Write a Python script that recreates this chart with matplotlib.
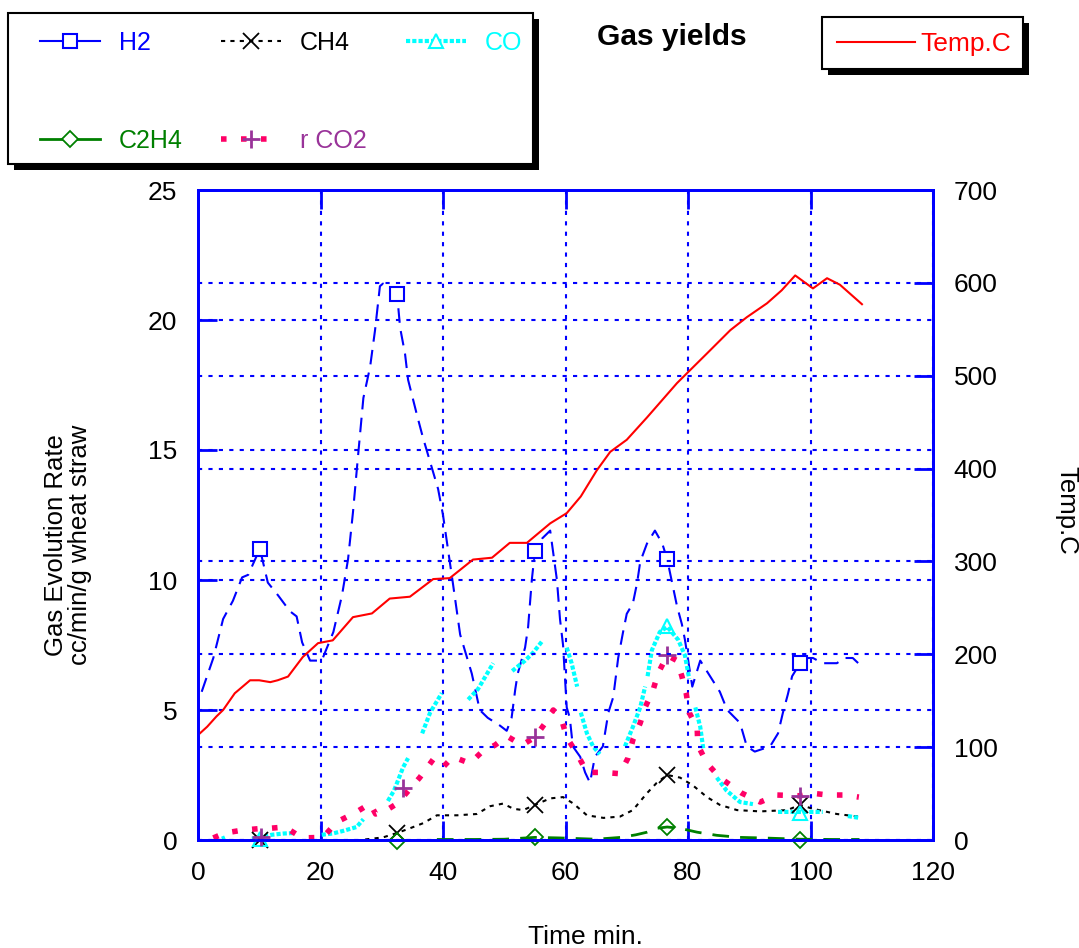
import numpy as np
import matplotlib
matplotlib.use("Agg")
import matplotlib.pyplot as plt
from matplotlib.patches import Rectangle
from matplotlib.lines import Line2D

plt.rcParams["font.family"] = ["Liberation Sans", "DejaVu Sans"]

# ============================================================
# data
# ============================================================
h2_t = [0.6, 2.5, 4.1, 5.7, 7.2, 8.2, 10.1, 11.4, 13.1, 15.0, 16.1, 17.0, 18.3, 20.2,
        22.1, 23.5, 24.5, 25.3, 26.1, 27.0, 28.1, 28.9, 29.7, 30.2, 32.5, 33.0, 33.8,
        34.3, 35.8, 36.7, 38.2, 39.2, 40.0, 41.6, 42.8, 44.7, 46.0, 47.3, 49.3, 50.4,
        51.2, 51.8, 52.2, 53.4, 53.9, 54.5, 55.0, 56.2, 57.5, 58.6, 59.1, 59.6, 60.2,
        60.7, 61.2, 62.4, 63.2, 64.0, 64.8, 66.1, 67.0, 67.8, 68.6, 69.4, 70.0, 71.0,
        71.7, 72.2, 73.3, 74.6, 75.8, 76.6, 77.4, 78.2, 79.0, 79.5, 80.7, 82.0, 85.2,
        86.4, 88.5, 89.6, 90.9, 93.4, 94.7, 95.5, 96.3, 97.0, 98.3, 99.6, 100.4, 102.0,
        104.3, 105.6, 106.9, 107.8]
h2_v = [5.7, 7.0, 8.5, 9.2, 10.1, 10.2, 11.2, 9.9, 9.4, 8.8, 8.6, 7.6, 6.9, 6.9,
        8.0, 9.4, 10.8, 12.6, 14.7, 17.0, 18.2, 19.6, 21.3, 21.4, 21.0, 19.7, 18.7,
        17.7, 16.3, 15.5, 14.3, 13.5, 12.5, 9.9, 7.9, 6.4, 5.0, 4.7, 4.4, 4.2,
        4.7, 5.8, 6.4, 7.4, 8.2, 10.0, 11.1, 11.6, 11.9, 10.0, 8.5, 7.5, 5.1,
        4.7, 3.6, 3.2, 2.6, 2.2, 3.2, 3.6, 4.9, 5.5, 7.0, 8.0, 8.7, 9.1,
        9.9, 10.7, 11.4, 11.9, 11.4, 10.8, 9.9, 9.0, 8.3, 7.7, 5.9, 6.9, 5.7,
        5.0, 4.5, 3.6, 3.4, 3.6, 4.1, 4.9, 5.6, 6.3, 6.8, 7.0, 7.0, 6.8,
        6.8, 7.0, 7.0, 6.8]
h2_mark_t = [10.1, 32.5, 55.0, 76.6, 98.3]
h2_mark_v = [11.2, 21.0, 11.1, 10.8, 6.8]

ch4_t = [27.3, 30.2, 32.5, 34.6, 36.8, 39.0, 42.3, 45.5, 47.7, 49.8, 51.5, 53.1, 55.0,
         57.5, 59.6, 61.3, 63.5, 66.2, 68.9, 71.0, 73.3, 74.9, 76.6, 78.7, 80.8, 83.1,
         85.2, 88.0, 91.8, 96.2, 98.3, 100.4, 104.3, 107.8]
ch4_v = [0.02, 0.1, 0.27, 0.45, 0.65, 0.95, 0.95, 1.0, 1.3, 1.4, 1.2, 1.15, 1.35,
         1.6, 1.65, 1.4, 0.95, 0.85, 0.9, 1.15, 1.8, 2.2, 2.5, 2.4, 2.1, 1.65,
         1.35, 1.15, 1.1, 1.15, 1.35, 1.2, 1.0, 0.9]
ch4_mark_t = [10.1, 32.5, 55.0, 76.6, 98.3]
ch4_mark_v = [0.0, 0.27, 1.35, 2.5, 1.35]

# CO is drawn in pieces; nan marks the gaps
co_t = [3.9, 4.4, np.nan,
        8.8, 10.1, 12.0, 14.0, 15.8, np.nan,
        20.2, 22.0, 23.7, 25.9, 27.0, np.nan,
        31.0, 32.0, 33.5, 34.3, np.nan,
        36.6, 37.9, 39.8, np.nan,
        44.1, 45.7, 48.2, np.nan,
        51.3, 53.4, 54.7, 56.2, np.nan,
        60.2, 61.0, 61.9, np.nan,
        62.5, 63.5, 64.5, 65.6, np.nan,
        69.7, 71.0, 72.2, 73.0, np.nan,
        73.4, 74.1, 75.4, 76.6, 78.4, 79.5, 80.2, np.nan,
        81.2, 82.0, 82.5, np.nan,
        84.7, 86.3, 88.5, 90.6, np.nan,
        94.7, 98.3, 102.0, np.nan,
        106.1, 108.0]
co_v = [0.05, 0.1, np.nan,
        0.05, 0.1, 0.2, 0.25, 0.27, np.nan,
        0.2, 0.25, 0.35, 0.5, 0.8, np.nan,
        1.5, 1.9, 2.8, 3.15, np.nan,
        4.1, 4.9, 5.65, np.nan,
        5.4, 5.8, 6.8, np.nan,
        6.5, 6.9, 7.2, 7.65, np.nan,
        7.4, 6.8, 5.9, np.nan,
        4.9, 4.1, 3.6, 3.3, np.nan,
        3.6, 4.35, 5.1, 5.9, np.nan,
        6.3, 7.3, 8.0, 8.2, 7.7, 7.1, 6.2, np.nan,
        5.1, 4.35, 3.5, np.nan,
        2.4, 1.9, 1.46, 1.38, np.nan,
        1.08, 1.08, 1.08, np.nan,
        0.92, 0.85]
co_mark_t = [10.1, 76.6, 98.3]
co_mark_v = [0.05, 8.25, 1.05]

c2h4_t = [39.0, 45.0, 50.0, 55.0, 59.0, 65.0, 69.0, 71.5, 73.3, 74.9, 76.6, 78.7,
          81.5, 84.7, 88.5, 92.0, 98.3, 104.0, 108.0]
c2h4_v = [0.02, 0.02, 0.03, 0.1, 0.08, 0.03, 0.1, 0.2, 0.3, 0.45, 0.5, 0.45,
          0.3, 0.18, 0.1, 0.08, 0.03, 0.02, 0.02]
c2h4_mark_t = [32.5, 55.0, 76.6, 98.3]
c2h4_mark_v = [-0.05, 0.1, 0.5, 0.0]

co2_t = [2.5, 4.4, 7.3, 10.6, 11.7, 14.2, 17.0, 20.4, 22.7, 25.6, 28.1, 29.0, 30.8,
         32.5, 34.0, 36.2, 38.4, 40.0, 41.6, 44.4, 46.4, 48.5, 50.4, 52.9, 55.0, 56.7,
         58.0, 59.4, 60.2, 62.0, 63.5, 66.2, 68.9, 70.2, 71.0, 72.2, 73.0, 74.3, 75.1,
         76.6, 78.2, 79.0, 79.7, 80.2, 81.5, 81.6, 83.1, 85.2, 88.8, 91.8, 94.5, 98.3,
         100.2, 102.9, 105.6, 107.9]
co2_v = [0.08, 0.27, 0.38, 0.45, 0.45, 0.5, 0.08, 0.1, 0.7, 1.04, 1.4, 1.0, 1.15,
         1.4, 1.8, 2.4, 3.1, 2.8, 3.2, 2.95, 3.4, 3.65, 4.0, 3.65, 3.95, 4.5,
         5.0, 4.6, 3.95, 3.27, 2.6, 2.6, 2.55, 3.15, 3.85, 4.5, 5.1, 5.77, 6.4,
         7.1, 6.9, 6.3, 5.65, 4.9, 4.3, 3.65, 2.95, 2.4, 1.8, 1.46, 1.73, 1.7,
         1.8, 1.73, 1.73, 1.65]
co2_mark_t = [10.3, 33.5, 55.0, 76.6, 98.3]
co2_mark_v = [0.1, 2.0, 3.95, 7.1, 1.7]

temp_t = [0, 1.5, 3.0, 4.1, 6.0, 8.5, 10.0, 11.8, 13.0, 14.7, 17.1, 19.6, 22.0, 25.3,
          28.4, 31.3, 34.6, 38.4, 41.1, 44.9, 48.0, 50.9, 53.7, 57.5, 60.2, 62.5, 65.1,
          67.3, 70.0, 73.3, 78.2, 83.1, 86.9, 89.6, 92.9, 95.3, 97.5, 100.4, 102.7,
          104.8, 108.4]
temp_v = [113, 122, 133, 140, 158, 172, 172, 170, 172, 176, 197, 212, 215, 240,
          244, 260, 262, 281, 282, 302, 304, 320, 320, 341, 352, 370, 398,
          418, 431, 455, 492, 524, 549, 563, 578, 592, 608, 594, 605,
          598, 577]

x_ticks = [0, 20, 40, 60, 80, 100, 120]
gas_ticks = [0, 5, 10, 15, 20, 25]
temp_ticks = [0, 100, 200, 300, 400, 500, 600, 700]

# ============================================================
# colours / layout helpers
# ============================================================
BLUE = "#0000ff"
CYAN = "#00ffff"
GREEN = "#008000"
PINK = "#ff0066"
PURPLE = "#993399"
RED = "#ff0000"
FS_TICK = 19
FS_LABEL = 18.5
FS_LEG = 18

W, H = 1079, 948


def fx(px):
    return px / W


def fy(py):
    return 1 - py / H


fig = plt.figure(figsize=(W / 100, H / 100), dpi=100)
ax = fig.add_axes([fx(198), fy(840), fx(933) - fx(198), fy(190) - fy(840)])
ax2 = ax.twinx()

# ============================================================
# series
# ============================================================
ax.plot(h2_t, h2_v, color=BLUE, lw=1.5, ls=(0, (7, 4)))
ax.plot(h2_mark_t, h2_mark_v, ls="none", marker="s", ms=10, mfc="white",
        mec=BLUE, mew=1.5, clip_on=False, zorder=4)

ax.plot(ch4_t, ch4_v, color="black", lw=1.5, ls=(0, (2, 2.5)))
ax.plot(ch4_mark_t, ch4_mark_v, ls="none", marker="x", ms=11, mec="black",
        mew=1.3, clip_on=False, zorder=4)

ax.plot(co_t, co_v, color=CYAN, lw=3.0, ls=(0, (1, 0.5)))
ax.plot(co_mark_t, co_mark_v, ls="none", marker="^", ms=10, mfc="none",
        mec=CYAN, mew=1.5, clip_on=False, zorder=4)

ax.plot(c2h4_t, c2h4_v, color=GREEN, lw=2.0, ls=(0, (6, 4)), clip_on=False, zorder=3)
ax.plot(c2h4_mark_t, c2h4_mark_v, ls="none", marker="D", ms=8, mfc="none",
        mec=GREEN, mew=1.3, clip_on=False, zorder=4)

ax.plot(co2_t, co2_v, color=PINK, lw=4.0, ls=(0, (1, 2.6)))
ax.plot(co2_mark_t, co2_mark_v, ls="none", marker="+", ms=13, mec=PURPLE,
        mew=2.0, clip_on=False, zorder=4)

ax2.plot(temp_t, temp_v, color=RED, lw=1.5)

# ============================================================
# axes
# ============================================================
ax.set_xlim(0, 120)
ax.set_ylim(0, 25)
ax2.set_ylim(0, 700)
ax.set_xticks(x_ticks)
ax.set_yticks(gas_ticks)
ax2.set_yticks(temp_ticks)

grid_kw = dict(color=BLUE, ls=(0, (2, 3)), lw=1.5)
ax.grid(True, **grid_kw)
ax2.yaxis.grid(True, **grid_kw)

for a in (ax, ax2):
    for sp in a.spines.values():
        sp.set_color(BLUE)
        sp.set_linewidth(2.0)
    a.tick_params(direction="in", length=14, width=2.0, color=BLUE,
                  labelsize=FS_TICK, pad=15)
ax.tick_params(axis="x", top=True)

ax.set_xlabel("Time min.", fontsize=FS_TICK)
ax.xaxis.set_label_coords((585 - 198) / 735, (840 - 937) / 650)
ax.xaxis.label.set_va("center")

ax.set_ylabel("Gas Evolution Rate\ncc/min/g wheat straw", fontsize=FS_LABEL,
              linespacing=1.05)
ax.yaxis.set_label_coords((68 - 198) / 735, (840 - 545) / 650)
ax.yaxis.label.set_va("center")

ax2.set_ylabel("Temp.C", fontsize=FS_LABEL, rotation=270)
ax2.yaxis.set_label_coords((1066 - 198) / 735, (840 - 510) / 650)
ax2.yaxis.label.set_va("center")

fig.text(fx(672), fy(37), "Gas yields", ha="center", va="center",
         fontsize=21.5, fontweight="bold")

# ============================================================
# legends with drop shadows
# ============================================================
def shadow_box(x0, y0, x1, y1, off=6):
    fig.add_artist(Rectangle((fx(x0 + off), fy(y1 + off)), fx(x1) - fx(x0),
                             fy(y0) - fy(y1), transform=fig.transFigure,
                             facecolor="black", edgecolor="none"))
    fig.add_artist(Rectangle((fx(x0), fy(y1)), fx(x1) - fx(x0), fy(y0) - fy(y1),
                             transform=fig.transFigure, facecolor="white",
                             edgecolor="black", lw=1.5))


shadow_box(8, 13, 533, 164)
shadow_box(822, 17, 1023, 69)

handles = [
    Line2D([], [], color=BLUE, lw=1.5, marker="s", ms=10, mfc="white", mec=BLUE, mew=1.5),
    Line2D([], [], color=GREEN, lw=2.0, marker="D", ms=8, mfc="white", mec=GREEN, mew=1.3),
    Line2D([], [], color="black", lw=1.5, ls=(0, (2, 2.5)), marker="x", ms=11, mew=1.3),
    Line2D([], [], color=PINK, lw=4.0, ls=(0, (1, 2.6)), marker="+", ms=13,
           mec=PURPLE, mew=2.0),
    Line2D([], [], color=CYAN, lw=3.0, ls=(0, (1, 0.5)), marker="^", ms=10,
           mfc="white", mec=CYAN, mew=1.5),
]
labels = ["H2", "C2H4", "CH4", "r CO2", "CO"]
label_colors = [BLUE, GREEN, "black", PURPLE, CYAN]

leg = fig.legend(handles, labels, loc="upper left", bbox_to_anchor=(fx(40), fy(31)),
                 ncol=3, frameon=False, borderpad=0, borderaxespad=0, fontsize=FS_LEG,
                 handlelength=2.4, handletextpad=0.75, columnspacing=1.55,
                 labelspacing=2.95)
for txt, c in zip(leg.get_texts(), label_colors):
    txt.set_color(c)

leg2 = fig.legend([Line2D([], [], color=RED, lw=1.5)], ["Temp.C"], loc="center left",
                  bbox_to_anchor=(fx(837), fy(44)), frameon=False, borderpad=0,
                  borderaxespad=0, fontsize=FS_LEG + 1, handlelength=2.95,
                  handletextpad=0.2)
leg2.get_texts()[0].set_color(RED)

fig.savefig("out.png", dpi=100)
